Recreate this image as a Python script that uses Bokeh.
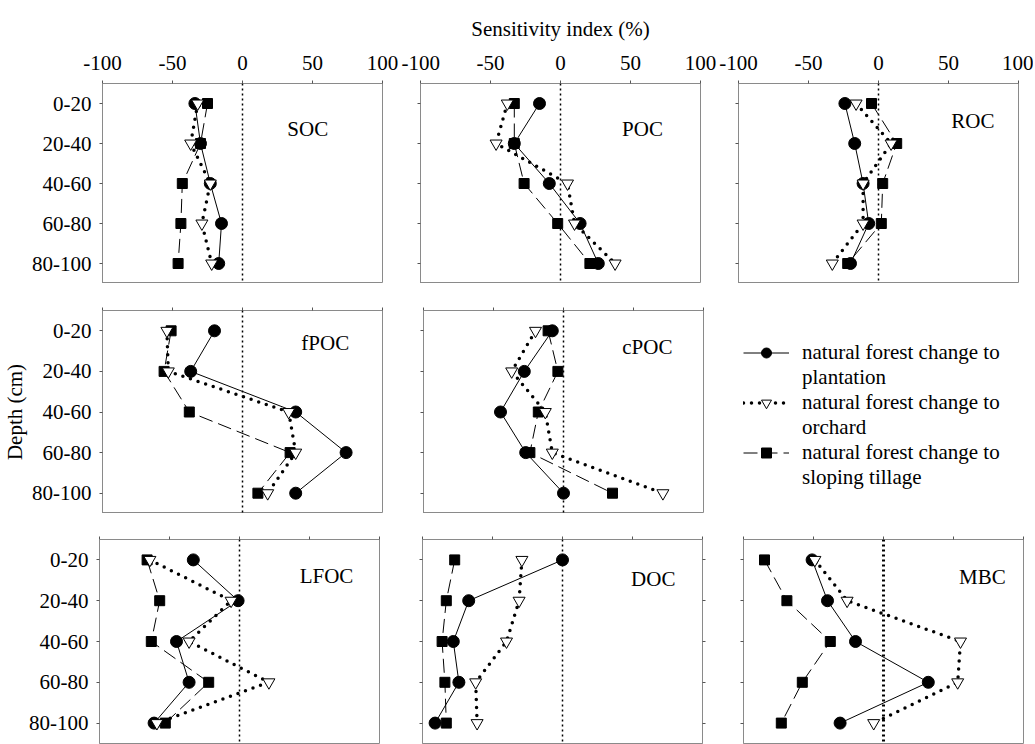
from bokeh.plotting import figure
from bokeh.layouts import row, column
from bokeh.models import Range1d, FixedTicker, Span, Label, Legend, LegendItem, LinearAxis
from bokeh.embed import file_html
from bokeh.resources import INLINE

# ---------------- data ----------------
depth_labels = ["0-20", "20-40", "40-60", "60-80", "80-100"]
depth_pos = [1, 2, 3, 4, 5]
x_ticks = [-100, -50, 0, 50, 100]
x_tick_labels = ["-100", "-50", "0", "50", "100"]
panels = ["SOC", "POC", "ROC", "fPOC", "cPOC", "LFOC", "DOC", "MBC"]
series_names = ["natural forest change to plantation",
                "natural forest change to orchard",
                "natural forest change to sloping tillage"]

# natural forest -> plantation
SOC_plantation = [-34, -30, -23, -15, -17]
POC_plantation = [-15, -33, -8, 14, 27]
ROC_plantation = [-24, -17, -11, -7, -20]
fPOC_plantation = [-20, -37, 38, 74, 38]
cPOC_plantation = [-8, -28, -45, -27, 0]
LFOC_plantation = [-33, -1, -45, -36, -61]
DOC_plantation = [0, -67, -78, -74, -91]
MBC_plantation = [-51, -40, -20, 32, -31]

# natural forest -> orchard
SOC_orchard = [-32, -37, -23, -29, -22]
POC_orchard = [-38, -46, 5, 10, 39]
ROC_orchard = [-16, 9, -11, -11, -33]
fPOC_orchard = [-54, -53, 33, 38, 18]
cPOC_orchard = [-20, -37, -13, -8, 71]
LFOC_orchard = [-64, -6, -36, 21, -59]
DOC_orchard = [-29, -31, -40, -62, -61]
MBC_orchard = [-49, -26, 55, 53, -7]

# natural forest -> sloping tillage
SOC_tillage = [-25, -30, -43, -44, -46]
POC_tillage = [-33, -33, -26, -2, 21]
ROC_tillage = [-5, 13, 3, 2, -22]
fPOC_tillage = [-51, -56, -38, 34, 11]
cPOC_tillage = [-11, -4, -18, -24, 35]
LFOC_tillage = [-66, -57, -63, -22, -53]
DOC_tillage = [-77, -83, -86, -84, -83]
MBC_tillage = [-85, -69, -38, -58, -73]

plantation = dict(SOC=SOC_plantation, POC=POC_plantation, ROC=ROC_plantation,
                  fPOC=fPOC_plantation, cPOC=cPOC_plantation, LFOC=LFOC_plantation,
                  DOC=DOC_plantation, MBC=MBC_plantation)
orchard = dict(SOC=SOC_orchard, POC=POC_orchard, ROC=ROC_orchard,
               fPOC=fPOC_orchard, cPOC=cPOC_orchard, LFOC=LFOC_orchard,
               DOC=DOC_orchard, MBC=MBC_orchard)
tillage = dict(SOC=SOC_tillage, POC=POC_tillage, ROC=ROC_tillage,
               fPOC=fPOC_tillage, cPOC=cPOC_tillage, LFOC=LFOC_tillage,
               DOC=DOC_tillage, MBC=MBC_tillage)

# ---------------- styles / layout ----------------
FONT = "Liberation Serif"
FS = "21px"
GRAY = "#8a8a8a"
TICK = "#555555"

label_pos = {"SOC": (32, 1.63), "POC": (44, 1.63), "ROC": (52, 1.43),
             "fPOC": (42, 1.31), "cPOC": (42, 1.41), "LFOC": (43, 1.40),
             "DOC": (49, 1.48), "MBC": (54, 1.43)}

line_styles = {
    "plantation": dict(line_color="black", line_width=1),
    "orchard": dict(line_color="black", line_width=3.5, line_dash="0 8", line_cap="round"),
    "tillage": dict(line_color="black", line_width=1, line_dash="14 6"),
}
marker_styles = {
    "plantation": dict(marker="circle", size=12, fill_color="black", line_color="black"),
    "orchard": dict(marker="inverted_triangle", size=12, fill_color="white", line_color="black", line_width=1),
    "tillage": dict(marker="square", size=10, fill_color="black", line_color="black"),
}


def make_panel(name, bl, br, bt, bb, fh, show_x, show_y, zero_w=1.5, right_ticks=False):
    p = figure(frame_width=280, frame_height=fh,
               x_range=Range1d(-100, 100), y_range=Range1d(5.5, 0.5),
               x_axis_location="above", y_axis_location="left",
               output_backend="svg", toolbar_location=None,
               min_border_left=bl, min_border_right=br,
               min_border_top=bt, min_border_bottom=bb,
               background_fill_color="white", border_fill_color="white")
    p.grid.visible = False
    p.outline_line_color = GRAY
    p.outline_line_width = 1

    xa = p.xaxis[0]
    xa.ticker = FixedTicker(ticks=x_ticks)
    xa.major_label_overrides = {t: s for t, s in zip(x_ticks, x_tick_labels)}
    xa.minor_tick_line_color = None
    xa.major_tick_in = 0
    xa.major_tick_out = 3
    xa.major_tick_line_color = TICK
    xa.axis_line_color = GRAY
    xa.major_label_text_font = FONT
    if show_x:
        xa.major_label_text_font_size = FS
        xa.major_label_text_color = "black"
        xa.major_label_standoff = 11
    else:
        xa.major_label_text_font_size = "8px"
        xa.major_label_text_color = None
        xa.major_label_standoff = 0

    ya = p.yaxis[0]
    ya.ticker = FixedTicker(ticks=depth_pos)
    ya.major_label_overrides = {pos: lab for pos, lab in zip(depth_pos, depth_labels)}
    ya.minor_tick_line_color = None
    ya.major_tick_in = 0
    ya.major_tick_out = 3
    ya.major_tick_line_color = TICK
    ya.axis_line_color = GRAY
    ya.major_label_text_font = FONT
    if show_y:
        ya.major_label_text_font_size = FS
        ya.major_label_text_color = "black"
        ya.major_label_standoff = 8
    else:
        ya.major_label_text_font_size = "8px"
        ya.major_label_text_color = None
        ya.major_label_standoff = 0

    if right_ticks:
        ra = LinearAxis(ticker=FixedTicker(ticks=depth_pos))
        ra.major_label_text_color = None
        ra.major_label_text_font_size = "8px"
        ra.major_label_standoff = 0
        ra.minor_tick_line_color = None
        ra.major_tick_in = 0
        ra.major_tick_out = 3
        ra.major_tick_line_color = TICK
        ra.axis_line_color = GRAY
        p.add_layout(ra, "right")

    p.add_layout(Span(location=0, dimension="height", line_color="black",
                      line_width=zero_w, line_dash="2 3"))

    for key, data in (("plantation", plantation), ("tillage", tillage), ("orchard", orchard)):
        vals = data[name]
        p.line(vals, depth_pos, **line_styles[key])
        p.scatter(vals, depth_pos, **marker_styles[key])

    lx, ly = label_pos[name]
    p.add_layout(Label(x=lx, y=ly, text=name, text_font=FONT, text_font_size=FS,
                       text_align="left", text_baseline="middle", text_color="black"))
    return p


# Row 1
p_soc = make_panel("SOC", 102, 19, 83, 0, 200, True, True)
p_poc = make_panel("POC", 19, 18, 83, 0, 200, True, False)
p_roc = make_panel("ROC", 20, 15, 83, 0, 200, True, False)
ax = p_poc.xaxis[0]
ax.axis_label = "Sensitivity index (%)"
ax.axis_label_text_font = FONT
ax.axis_label_text_font_size = FS
ax.axis_label_text_font_style = "normal"
ax.axis_label_text_color = "black"
ax.axis_label_standoff = 12

# Row 2
p_fpoc = make_panel("fPOC", 101, 20, 27, 0, 203, False, True)
p_cpoc = make_panel("cPOC", 21, 18, 27, 0, 203, False, False)
ya = p_fpoc.yaxis[0]
ya.axis_label = "Depth (cm)"
ya.axis_label_text_font = FONT
ya.axis_label_text_font_size = FS
ya.axis_label_text_font_style = "normal"
ya.axis_label_text_color = "black"
ya.axis_label_standoff = 2

# legend panel
lp = figure(frame_width=280, frame_height=203, x_range=Range1d(0, 1), y_range=Range1d(0, 1),
            x_axis_type=None, y_axis_type=None, output_backend="svg", toolbar_location=None,
            min_border_left=20, min_border_right=13, min_border_top=27, min_border_bottom=0,
            background_fill_color="white", border_fill_color="white")
lp.grid.visible = False
lp.outline_line_color = None
NAN = float("nan")
lr = {}
for key in ("plantation", "orchard", "tillage"):
    l = lp.line(x=[NAN], y=[NAN], **line_styles[key])
    ms = dict(marker_styles[key])
    s = lp.scatter(x=[NAN], y=[NAN], **ms)
    lr[key] = [l, s]
blank = lp.line(x=[NAN], y=[NAN], line_alpha=0)
items = []
for key, name in zip(("plantation", "orchard", "tillage"), series_names):
    first, second = name.split(" to ")
    items.append(LegendItem(label=first + " to", renderers=lr[key], index=0))
    items.append(LegendItem(label=second, renderers=[blank], index=0))
legend = Legend(items=items, location=(2, 23), glyph_width=46, glyph_height=25,
                label_height=25, label_standoff=13, spacing=0, padding=0, margin=0,
                border_line_color=None, background_fill_alpha=0,
                label_text_font=FONT, label_text_font_size=FS, label_text_color="black")
lp.add_layout(legend, "center")

# Row 3
p_lfoc = make_panel("LFOC", 99, 22, 26, 1, 204, False, True)
p_doc = make_panel("DOC", 21, 20, 26, 1, 204, False, False, right_ticks=True)
p_mbc = make_panel("MBC", 21, 10, 26, 1, 204, False, False, zero_w=3)

layout = column(row(p_soc, p_poc, p_roc), row(p_fpoc, p_cpoc, lp), row(p_lfoc, p_doc, p_mbc))

open("out.html", "w").write(file_html(layout, INLINE))
